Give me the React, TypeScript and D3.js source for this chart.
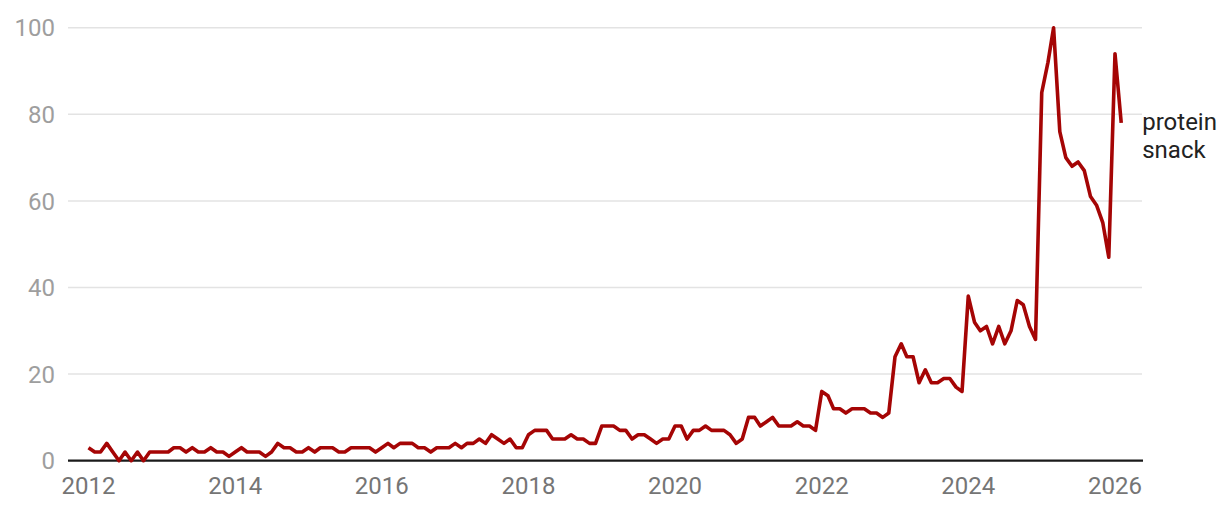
import { line, scaleLinear, scaleTime } from "d3";
import React from "react";

// monthly index values, Jan 2012 .. Feb 2026
const values2012 = [3, 2, 2, 4, 2, 0, 2, 0, 2, 0, 2, 2];
const values2013 = [2, 2, 3, 3, 2, 3, 2, 2, 3, 2, 2, 1];
const values2014 = [2, 3, 2, 2, 2, 1, 2, 4, 3, 3, 2, 2];
const values2015 = [3, 2, 3, 3, 3, 2, 2, 3, 3, 3, 3, 2];
const values2016 = [3, 4, 3, 4, 4, 4, 3, 3, 2, 3, 3, 3];
const values2017 = [4, 3, 4, 4, 5, 4, 6, 5, 4, 5, 3, 3];
const values2018 = [6, 7, 7, 7, 5, 5, 5, 6, 5, 5, 4, 4];
const values2019 = [8, 8, 8, 7, 7, 5, 6, 6, 5, 4, 5, 5];
const values2020 = [8, 8, 5, 7, 7, 8, 7, 7, 7, 6, 4, 5];
const values2021 = [10, 10, 8, 9, 10, 8, 8, 8, 9, 8, 8, 7];
const values2022 = [16, 15, 12, 12, 11, 12, 12, 12, 11, 11, 10, 11];
const values2023 = [24, 27, 24, 24, 18, 21, 18, 18, 19, 19, 17, 16];
const values2024 = [38, 32, 30, 31, 27, 31, 27, 30, 37, 36, 31, 28];
const values2025 = [85, 92, 100, 76, 70, 68, 69, 67, 61, 59, 55, 47];
const values2026 = [94, 78];

const seriesName = ["protein", "snack"];
const startYear = 2012;
const yTicks = [0, 20, 40, 60, 80, 100];
const xTickYears = [2012, 2014, 2016, 2018, 2020, 2022, 2024, 2026];

const values = [
  ...values2012, ...values2013, ...values2014, ...values2015, ...values2016,
  ...values2017, ...values2018, ...values2019, ...values2020, ...values2021,
  ...values2022, ...values2023, ...values2024, ...values2025, ...values2026,
];
const data = values.map((v, i) => ({ date: new Date(startYear, i, 1), value: v }));

const width = 1226;
const height = 530;
const font = "Roboto, 'Noto Sans', sans-serif";

const xScale = scaleTime()
  .domain([new Date(2012, 0, 1), new Date(2026, 0, 1)])
  .range([88.5, 1115]);
const yScale = scaleLinear().domain([0, 100]).range([460.7, 27.7]);
const gridLeft = 68;
const gridRight = 1142;

const path = line<{ date: Date; value: number }>()
  .x((d) => xScale(d.date))
  .y((d) => yScale(d.value));

export default function App() {
  const last = data[data.length - 1];
  return (
    <svg
      width={width}
      height={height}
      viewBox={`0 0 ${width} ${height}`}
      style={{ position: "absolute", left: 0, top: 0, background: "white" }}
    >
      {yTicks.map((t) => (
        <g key={t}>
          {t > 0 && (
            <line
              x1={gridLeft}
              x2={gridRight}
              y1={yScale(t)}
              y2={yScale(t)}
              stroke="#e3e3e3"
              strokeWidth={1.5}
            />
          )}
          <text
            x={55}
            y={yScale(t)}
            dy="0.36em"
            textAnchor="end"
            fontFamily={font}
            fontSize={24}
            fill="#9e9e9e"
          >
            {t}
          </text>
        </g>
      ))}
      <line
        x1={gridLeft}
        x2={gridRight + 1}
        y1={yScale(0)}
        y2={yScale(0)}
        stroke="#1a1a1a"
        strokeWidth={2.2}
      />
      {xTickYears.map((y) => (
        <text
          key={y}
          x={xScale(new Date(y, 0, 1))}
          y={494}
          textAnchor="middle"
          fontFamily={font}
          fontSize={24}
          fill="#757575"
        >
          {y}
        </text>
      ))}
      <path
        d={path(data) ?? ""}
        fill="none"
        stroke="#a50505"
        strokeWidth={3.6}
        strokeLinejoin="round"
      />
      <text
        x={xScale(last.date) + 21}
        y={yScale(last.value) + 7}
        fontFamily={font}
        fontSize={24}
        fill="#222"
      >
        {seriesName.map((w, i) => (
          <tspan key={w} x={xScale(last.date) + 21} dy={i === 0 ? 0 : 27.6}>
            {w}
          </tspan>
        ))}
      </text>
    </svg>
  );
}
